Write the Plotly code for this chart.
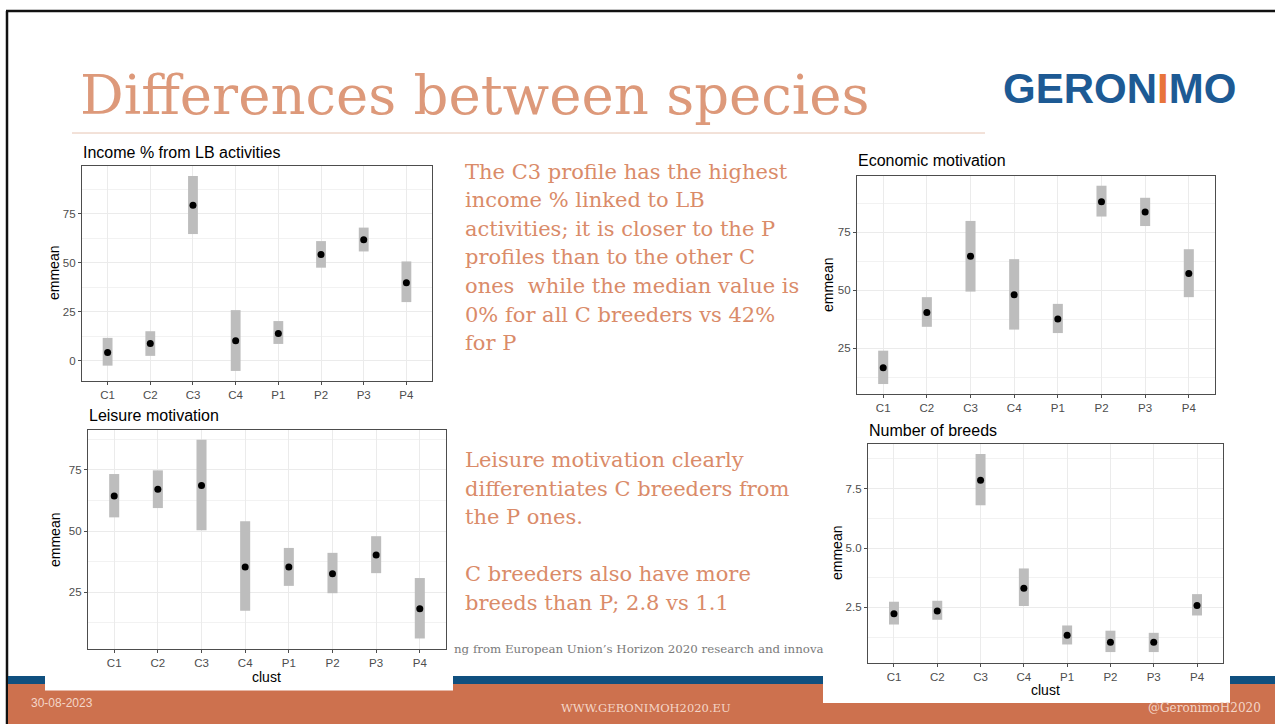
import plotly.graph_objects as go

W, H = 1275, 724

clusters = ["C1", "C2", "C3", "C4", "P1", "P2", "P3", "P4"]

income_mean = [4.1, 8.7, 79.4, 10.1, 13.8, 54.3, 61.8, 39.8]
income_lo = [-2.6, 2.4, 64.7, -5.3, 8.5, 47.5, 55.8, 29.9]
income_hi = [11.6, 15.0, 94.4, 25.8, 20.2, 61.1, 68.0, 50.7]

econ_mean = [16.5, 40.4, 64.7, 48.0, 37.6, 88.2, 83.8, 57.2]
econ_lo = [9.5, 34.2, 49.4, 33.0, 31.5, 81.8, 77.7, 47.0]
econ_hi = [23.9, 47.0, 79.9, 63.4, 44.1, 95.1, 89.9, 67.7]

leisure_mean = [64.3, 67.1, 68.6, 35.3, 35.3, 32.6, 40.2, 18.3]
leisure_lo = [55.6, 59.4, 50.3, 17.4, 27.6, 24.6, 32.8, 6.1]
leisure_hi = [73.3, 74.8, 87.3, 54.0, 43.1, 41.1, 47.9, 30.8]

breeds_mean = [2.23, 2.35, 7.85, 3.31, 1.33, 1.03, 1.03, 2.58]
breeds_lo = [1.78, 1.98, 6.80, 2.56, 0.94, 0.62, 0.62, 2.16]
breeds_hi = [2.74, 2.78, 8.96, 4.14, 1.74, 1.52, 1.43, 3.06]

title_text = "Differences between species"
text_block1 = [
    "The C3 profile has the highest",
    "income % linked to LB",
    "activities; it is closer to the P",
    "profiles than to the other C",
    "ones  while the median value is",
    "0% for all C breeders vs 42%",
    "for P",
]
text_block2 = [
    "Leisure motivation clearly",
    "differentiates C breeders from",
    "the P ones.",
    "",
    "C breeders also have more",
    "breeds than P; 2.8 vs 1.1",
]


def px(x):
    return x / W


def py(y):
    return 1 - y / H


fig = go.Figure()

panels = [
    (income_mean, income_lo, income_hi, (82, 166, 432, 381), [-10.45, 99.5], 25, "d",
     "Income % from LB activities", (81, 152), (54, 273), None),
    (econ_mean, econ_lo, econ_hi, (857, 176, 1215, 394), [5.2, 99.3], 25, "d",
     "Economic motivation", (856, 160), (828, 285), None),
    (leisure_mean, leisure_lo, leisure_hi, (88, 430, 446, 649), [1.8, 91.3], 25, "d",
     "Leisure motivation", (87, 415), (55, 540), (266, 677)),
    (breeds_mean, breeds_lo, breeds_hi, (868, 444, 1223, 663), [0.16, 9.38], 2.5, ".1f",
     "Number of breeds", (867, 430), (837, 553), (1045, 690)),
]

annotations = []
shapes = []

# black slide border
shapes.append(dict(type="line", xref="paper", yref="paper", x0=px(6), x1=1, y0=py(11), y1=py(11),
                   line=dict(color="#111111", width=2.5), layer="below"))
shapes.append(dict(type="line", xref="paper", yref="paper", x0=px(7), x1=px(7), y0=py(11), y1=0,
                   line=dict(color="#111111", width=2.5), layer="below"))
# title underline
shapes.append(dict(type="line", xref="paper", yref="paper", x0=px(72), x1=px(985), y0=py(133), y1=py(133),
                   line=dict(color="#E6C4B2", width=1), layer="below"))
# footer bands
shapes.append(dict(type="rect", xref="paper", yref="paper", x0=px(8), x1=1, y0=py(684), y1=py(676),
                   fillcolor="#10507F", line=dict(width=0), layer="below"))
shapes.append(dict(type="rect", xref="paper", yref="paper", x0=px(8), x1=1, y0=0, y1=py(684),
                   fillcolor="#CD714E", line=dict(width=0), layer="below"))
# white chart backgrounds overlapping the footer
shapes.append(dict(type="rect", xref="paper", yref="paper", x0=px(45), x1=px(453), y0=py(690.5), y1=py(400),
                   fillcolor="white", line=dict(width=0), layer="below"))
shapes.append(dict(type="rect", xref="paper", yref="paper", x0=px(823), x1=px(1230), y0=py(703), y1=py(420),
                   fillcolor="white", line=dict(width=0), layer="below"))

layout_axes = {}
for i, (mean, lo, hi, box, yr, dt, fmt, ttl, tpos, epos, cpos) in enumerate(panels, start=1):
    xname = "xaxis" if i == 1 else f"xaxis{i}"
    yname = "yaxis" if i == 1 else f"yaxis{i}"
    xref = "x" if i == 1 else f"x{i}"
    yref = "y" if i == 1 else f"y{i}"
    x0, y0, x1, y1 = box
    fig.add_trace(go.Bar(
        x=clusters, y=[h - l for h, l in zip(hi, lo)], base=lo, width=0.23,
        marker=dict(color="#BDBDBD", line=dict(width=0)), xaxis=xref, yaxis=yref,
        hoverinfo="skip"))
    fig.add_trace(go.Scatter(
        x=clusters, y=mean, mode="markers", marker=dict(color="black", size=7),
        xaxis=xref, yaxis=yref))
    layout_axes[xname] = dict(
        domain=[px(x0), px(x1)], anchor=yref, type="category",
        categoryorder="array", categoryarray=clusters, range=[-0.6, 7.6],
        showgrid=True, gridcolor="#EBEBEB", gridwidth=1, zeroline=False,
        showline=True, mirror=True, linecolor="#4D4D4D", linewidth=1.2,
        ticks="outside", ticklen=3, tickcolor="#4D4D4D", tickwidth=1,
        tickfont=dict(family="Liberation Sans", size=11.5, color="#4D4D4D"),
        fixedrange=True)
    layout_axes[yname] = dict(
        domain=[py(y1), py(y0)], anchor=xref, range=yr, dtick=dt, tick0=0, tickformat=fmt,
        showgrid=True, gridcolor="#EBEBEB", gridwidth=1, zeroline=False,
        minor=dict(dtick=dt / 2, tick0=0, showgrid=True, gridcolor="#F2F2F2", gridwidth=0.7),
        showline=True, mirror=True, linecolor="#4D4D4D", linewidth=1.2,
        ticks="outside", ticklen=3, tickcolor="#4D4D4D", tickwidth=1,
        tickfont=dict(family="Liberation Sans", size=11.5, color="#4D4D4D"),
        fixedrange=True)
    annotations.append(dict(xref="paper", yref="paper", x=px(tpos[0]), y=py(tpos[1]),
                            xanchor="left", yanchor="middle", showarrow=False, text=ttl,
                            font=dict(family="Liberation Sans", size=16, color="black")))
    annotations.append(dict(xref="paper", yref="paper", x=px(epos[0]), y=py(epos[1]),
                            xanchor="center", yanchor="middle", showarrow=False, text="emmean",
                            textangle=-90,
                            font=dict(family="Liberation Sans", size=14, color="black")))
    if cpos:
        annotations.append(dict(xref="paper", yref="paper", x=px(cpos[0]), y=py(cpos[1]),
                                xanchor="center", yanchor="middle", showarrow=False, text="clust",
                                font=dict(family="Liberation Sans", size=14, color="black")))

# slide title
annotations.append(dict(xref="paper", yref="paper", x=px(78), y=py(95), xanchor="left", yanchor="middle",
                        showarrow=False, text=title_text,
                        font=dict(family="DejaVu Serif", size=54.5, color="#DD997A")))
# logo
annotations.append(dict(xref="paper", yref="paper", x=px(1001), y=py(88), xanchor="left", yanchor="middle",
                        showarrow=False,
                        text="GERON<span style='color:#E8743B'>I</span>MO",
                        font=dict(family="Liberation Sans", size=42, color="#1D5A94", weight="bold")))

# body text
for k, line in enumerate(text_block1):
    annotations.append(dict(xref="paper", yref="paper", x=px(463), y=py(171.5 + 28.6 * k),
                            xanchor="left", yanchor="middle", showarrow=False, text=line,
                            font=dict(family="DejaVu Serif", size=21, color="#DA8B69")))
for k, line in enumerate(text_block2):
    if not line:
        continue
    annotations.append(dict(xref="paper", yref="paper", x=px(463), y=py(460 + 28.6 * k),
                            xanchor="left", yanchor="middle", showarrow=False, text=line,
                            font=dict(family="DejaVu Serif", size=21, color="#DA8B69")))

# funding note (cut by the chart images)
annotations.append(dict(xref="paper", yref="paper", x=px(452), y=py(649), xanchor="left", yanchor="middle",
                        showarrow=False, text="ng from European Union’s Horizon 2020 research and innova",
                        font=dict(family="DejaVu Serif", size=11.8, color="#7A7A7A")))

# footer texts
annotations.append(dict(xref="paper", yref="paper", x=px(29), y=py(703), xanchor="left", yanchor="middle",
                        showarrow=False, text="30-08-2023",
                        font=dict(family="Liberation Sans", size=12, color="#F4D6C8")))
annotations.append(dict(xref="paper", yref="paper", x=px(646), y=py(708), xanchor="center", yanchor="middle",
                        showarrow=False, text="WWW.GERONIMOH2020.EU",
                        font=dict(family="DejaVu Serif", size=11.5, color="#F4D6C8")))
annotations.append(dict(xref="paper", yref="paper", x=px(1263), y=py(708), xanchor="right", yanchor="middle",
                        showarrow=False, text="@GeronimoH2020",
                        font=dict(family="DejaVu Serif", size=12, color="#F4D6C8")))

fig.update_layout(
    width=W, height=H, autosize=False,
    margin=dict(l=0, r=0, t=0, b=0),
    paper_bgcolor="white", plot_bgcolor="white",
    showlegend=False, template="none",
    annotations=annotations, shapes=shapes,
    **layout_axes,
)

fig.write_html(
    "out.html",
    config={"displayModeBar": False},
    post_script="document.body.style.margin='0';document.body.style.padding='0';"
                "document.body.style.overflow='hidden';",
)
